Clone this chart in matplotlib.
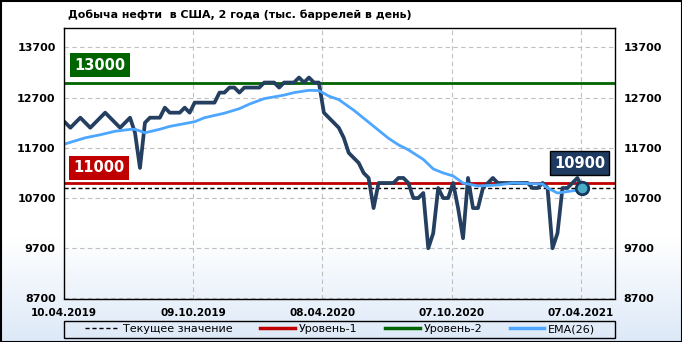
import numpy as np
import matplotlib
matplotlib.use("Agg")
import matplotlib.pyplot as plt
from matplotlib.colors import LinearSegmentedColormap
from matplotlib.patches import Rectangle
from matplotlib.lines import Line2D

plt.rcParams["font.family"] = ["DejaVu Sans"]
plt.rcParams["font.weight"] = "bold"

# weekly oil output, thousand barrels per day
start = np.datetime64("2019-04-12")
oil = [12200, 12100, 12200, 12300, 12200, 12100, 12200, 12300, 12400, 12300,
       12200, 12100, 12200, 12300, 12000, 11300, 12200, 12300, 12300, 12300,
       12500, 12400, 12400, 12400, 12500, 12400, 12600, 12600, 12600, 12600,
       12600, 12800, 12800, 12900, 12900, 12800, 12900, 12900, 12900, 12900,
       13000, 13000, 13000, 12900, 13000, 13000, 13000, 13100, 13000, 13100,
       13000, 13000, 12400, 12300, 12200, 12100, 11900, 11600, 11500, 11400,
       11200, 11100, 10500, 11000, 11000, 11000, 11000, 11100, 11100, 11000,
       10700, 10700, 10800, 9700, 10000, 10900, 10700, 10700, 11000, 10500,
       9900, 11100, 10500, 10500, 10900, 11000, 11100, 11000, 11000, 11000,
       11000, 11000, 11000, 11000, 10900, 10900, 11000, 10900, 9700, 10000,
       10900, 10900, 11000, 11100, 10900]
dates = start + np.arange(len(oil)) * np.timedelta64(7, "D")

# EMA(26) at some weeks
ema_week = [0, 4, 7, 10, 13, 14, 16, 19, 21, 26, 28, 32, 35, 37, 40, 44, 46, 49,
            51, 53, 55, 58, 60, 63, 65, 67, 69, 72, 74, 76, 78, 80, 83, 87, 90,
            96, 97, 99, 101, 104]
ema_val = [11780, 11900, 11960, 12030, 12067, 12070, 12000, 12070, 12127, 12220,
           12300, 12390, 12480, 12570, 12680, 12750, 12800, 12845, 12840, 12730,
           12660, 12450, 12290, 12050, 11890, 11760, 11660, 11470, 11280, 11200,
           11140, 11000, 10940, 10960, 11000, 10980, 10900, 10800, 10830, 10870]
ema_dates = start + np.array(ema_week) * np.timedelta64(7, "D")

level1 = 11000
level2 = 13000
current = oil[-1]

tick_dates = np.array(["2019-04-10", "2019-10-09", "2020-04-08",
                       "2020-10-07", "2021-04-07"], dtype="datetime64[D]")
tick_labels = ["10.04.2019", "09.10.2019", "08.04.2020", "07.10.2020", "07.04.2021"]
y_ticks = [8700, 9700, 10700, 11700, 12700, 13700]

fig = plt.figure(figsize=(6.82, 3.42), dpi=100)

# background gradient
bg = fig.add_axes([0, 0, 1, 1], zorder=-10)
cmap = LinearSegmentedColormap.from_list("bg", [(0, "white"), (0.7, "white"), (1, "#dde9f8")])
bg.imshow(np.linspace(0, 1, 256).reshape(-1, 1), cmap=cmap, aspect="auto", extent=[0, 1, 0, 1])
bg.axis("off")

ax = fig.add_axes([64 / 682, 1 - 298.5 / 342, 551 / 682, 270.2 / 342])
ax.set_facecolor("none")

ax.axhline(current, color="black", ls=(0, (3, 2)), lw=1)
ax.axhline(level1, color="#c00000", lw=2)
ax.axhline(level2, color="#006400", lw=2)
ax.plot(dates, oil, color="#243f60", lw=2.7, solid_joinstyle="round")
ax.plot(ema_dates, ema_val, color="#4da6ff", lw=2)
ax.plot(dates[-1], oil[-1], "o", ms=9, mfc="#4bacc6", mec="#17365d", mew=2, zorder=5)

ax.set_ylim(8700, 14080)
ax.set_xlim(np.datetime64("2019-04-10"), np.datetime64("2019-04-10") + np.timedelta64(776, "D"))
ax.set_yticks(y_ticks)
ax.set_xticks(tick_dates)
ax.set_xticklabels(tick_labels)
ax.tick_params(length=0, labelsize=8)
ax.tick_params(axis="y", labelleft=True, labelright=True, pad=6)
ax.tick_params(axis="x", labelsize=7.5, pad=7)
ax.grid(True, color="#c0c0c0", ls=(0, (4, 3)), lw=0.8)
for s in ax.spines.values():
    s.set_color("black")
    s.set_linewidth(1)

ax.annotate("13000", xy=(0, level2), xycoords=("axes fraction", "data"),
            xytext=(26, 12.4), textcoords="offset points", ha="center", va="center",
            color="white", fontsize=10.5,
            bbox=dict(boxstyle="square,pad=0.3", fc="#006400", ec="none"))
ax.annotate("11000", xy=(0, level1), xycoords=("axes fraction", "data"),
            xytext=(25.5, 11), textcoords="offset points", ha="center", va="center",
            color="white", fontsize=10.5,
            bbox=dict(boxstyle="square,pad=0.3", fc="#c00000", ec="none"))
ax.annotate(f"{current}", xy=(dates[-1], current),
            xytext=(-2, 18), textcoords="offset points", ha="center", va="center",
            color="white", fontsize=10.5, zorder=6,
            bbox=dict(boxstyle="square,pad=0.3", fc="#1f3a60", ec="black", lw=1))

fig.text(68 / 682, 1 - 15 / 342, "Добыча нефти  в США, 2 года (тыс. баррелей в день)",
         fontsize=7.9, ha="left", va="center")

handles = [
    Line2D([], [], color="black", ls=(0, (3, 2)), lw=1),
    Line2D([], [], color="#c00000", lw=2.5),
    Line2D([], [], color="#006400", lw=2.5),
    Line2D([], [], color="#4da6ff", lw=2.5),
]
names = ["Текущее значение", "Уровень-1", "Уровень-2", "EMA(26)"]
fig.legend(handles, names, loc="center", bbox_to_anchor=(340 / 682, 1 - 329 / 342),
           ncol=4, frameon=False, handlelength=3.1, handletextpad=0.35,
           columnspacing=2.5, prop={"size": 8, "weight": "normal"})
fig.add_artist(Rectangle((64 / 682, 4 / 342), 551 / 682, 17 / 342, fill=False,
                         ec="black", lw=1, transform=fig.transFigure))
fig.add_artist(Rectangle((0.5 / 682, 0.5 / 342), 681 / 682, 341 / 342, fill=False,
                         ec="black", lw=1.5, transform=fig.transFigure))

fig.savefig("out.png", dpi=100)
